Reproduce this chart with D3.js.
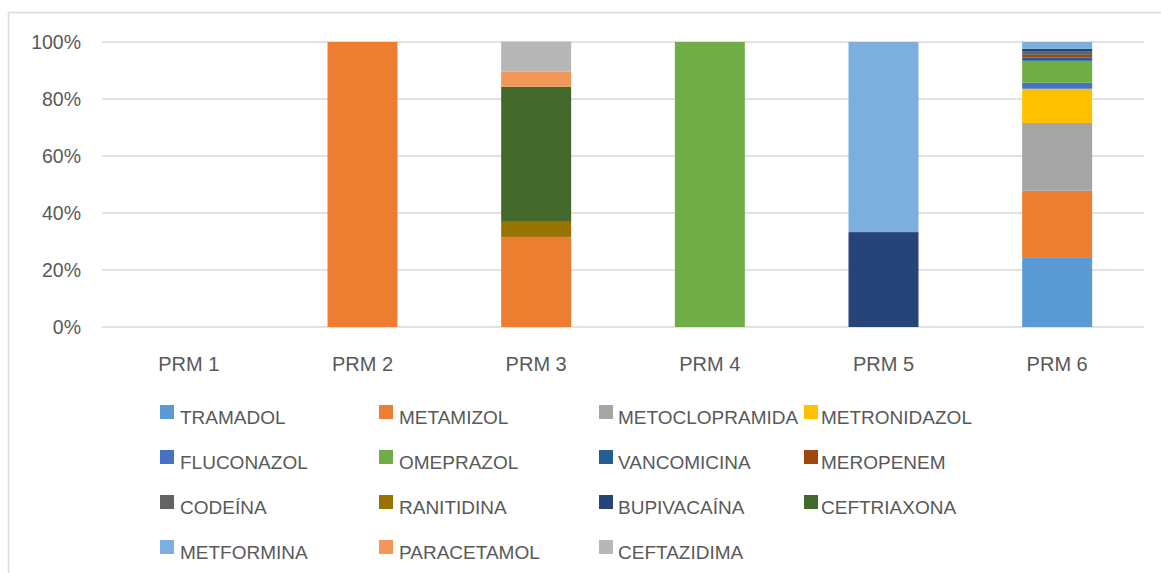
<!DOCTYPE html>
<html>
<head>
<meta charset="utf-8">
<script src="https://cdn.jsdelivr.net/npm/d3@7"></script>
<style>
  html, body { margin: 0; padding: 0; background: #fff; }
  svg { display: block; }
  text { font-family: "Liberation Sans", Arial, sans-serif; fill: #595959; }
</style>
</head>
<body>
<svg id="chart" width="1161" height="573"></svg>
<script>
// Categories (PRM types) and percentage of each drug within each category
const categories = ["PRM 1", "PRM 2", "PRM 3", "PRM 4", "PRM 5", "PRM 6"];

const drugs = [
  "TRAMADOL", "METAMIZOL", "METOCLOPRAMIDA", "METRONIDAZOL",
  "FLUCONAZOL", "OMEPRAZOL", "VANCOMICINA", "MEROPENEM",
  "CODEÍNA", "RANITIDINA", "BUPIVACAÍNA", "CEFTRIAXONA",
  "METFORMINA", "PARACETAMOL", "CEFTAZIDIMA"
];

const tramadol       = [0, 0,    0,    0,   0,    24.5];
const metamizol      = [0, 100,  31.6, 0,   0,    23.3];
const metoclopramida = [0, 0,    0,    0,   0,    23.8];
const metronidazol   = [0, 0,    0,    0,   0,    12.0];
const fluconazol     = [0, 0,    0,    0,   0,    2.1];
const omeprazol      = [0, 0,    0,    100, 0,    7.7];
const vancomicina    = [0, 0,    0,    0,   0,    1.1];
const meropenem      = [0, 0,    0,    0,   0,    1.0];
const codeina        = [0, 0,    0,    0,   0,    1.1];
const ranitidina     = [0, 0,    5.3,  0,   0,    0];
const bupivacaina    = [0, 0,    0,    0,   33.3, 1.0];
const ceftriaxona    = [0, 0,    47.4, 0,   0,    0];
const metformina     = [0, 0,    0,    0,   66.7, 2.4];
const paracetamol    = [0, 0,    5.3,  0,   0,    0];
const ceftazidima    = [0, 0,    10.5, 0,   0,    0];

const yTicks = [0, 20, 40, 60, 80, 100];
const yTickLabels = ["0%", "20%", "40%", "60%", "80%", "100%"];

const seriesValues = [
  tramadol, metamizol, metoclopramida, metronidazol,
  fluconazol, omeprazol, vancomicina, meropenem,
  codeina, ranitidina, bupivacaina, ceftriaxona,
  metformina, paracetamol, ceftazidima
];

const colors = [
  "#5B9BD5", "#ED7D31", "#A5A5A5", "#FFC000",
  "#4472C4", "#70AD47", "#255E91", "#9E480E",
  "#636363", "#997300", "#264478", "#43682B",
  "#7CAFDD", "#F1975A", "#B7B7B7"
];

// Table of rows, one per category, for d3.stack
const rows = categories.map((c, i) => {
  const r = { category: c };
  drugs.forEach((d, k) => { r[d] = seriesValues[k][i]; });
  return r;
});

const svg = d3.select("#chart");

// Chart frame: top and left edges
svg.append("path")
  .attr("d", "M8.5,600 L8.5,12.5 L1161,12.5")
  .attr("fill", "none").attr("stroke", "#d9d9d9").attr("stroke-width", 1.5);

const plot = { left: 102, right: 1144, top: 42, bottom: 327 };

const x = d3.scaleBand()
  .domain(categories)
  .range([plot.left, plot.right])
  .paddingInner(0.597)
  .paddingOuter(0.2985);

const y = d3.scaleLinear()
  .domain([0, 100])
  .range([plot.bottom, plot.top]);

// Gridlines
svg.append("g")
  .selectAll("line")
  .data(yTicks)
  .join("line")
  .attr("x1", plot.left).attr("x2", plot.right)
  .attr("y1", d => y(d)).attr("y2", d => y(d))
  .attr("stroke", "#d9d9d9").attr("stroke-width", 1.5);

// Y axis labels
const yAxis = d3.axisLeft(y)
  .tickValues(yTicks)
  .tickFormat((d, i) => yTickLabels[i])
  .tickSize(0)
  .tickPadding(21);

svg.append("g")
  .attr("transform", `translate(${plot.left},0)`)
  .call(yAxis)
  .call(g => g.select(".domain").remove())
  .call(g => g.selectAll("text")
    .attr("font-size", 19.5)
    .attr("font-family", "Liberation Sans, Arial, sans-serif")
    .attr("fill", "#595959"));

// Stacked bars
const stack = d3.stack().keys(drugs);
const stacked = stack(rows);

svg.append("g")
  .selectAll("g")
  .data(stacked)
  .join("g")
  .attr("fill", (d, i) => colors[i])
  .selectAll("rect")
  .data(d => d)
  .join("rect")
  .attr("x", d => x(d.data.category))
  .attr("width", x.bandwidth())
  .attr("y", d => y(d[1]))
  .attr("height", d => Math.max(0, y(d[0]) - y(d[1])));

// X axis labels
const xAxis = d3.axisBottom(x).tickSize(0).tickPadding(30);
svg.append("g")
  .attr("transform", `translate(0,${plot.bottom})`)
  .call(xAxis)
  .call(g => g.select(".domain").remove())
  .call(g => g.selectAll("text")
    .attr("font-size", 20)
    .attr("font-family", "Liberation Sans, Arial, sans-serif")
    .attr("fill", "#595959"));

// Legend: four columns, filled row by row
const legendCols = [
  { box: 160, text: 180 },
  { box: 379, text: 399 },
  { box: 599, text: 618 },
  { box: 804, text: 821 }
];
const legendRowY = [405, 450, 495, 540];

const legend = svg.append("g")
  .selectAll("g")
  .data(drugs)
  .join("g")
  .attr("transform", (d, i) => `translate(0,${legendRowY[Math.floor(i / 4)]})`);

legend.append("rect")
  .attr("x", (d, i) => legendCols[i % 4].box)
  .attr("y", 0)
  .attr("width", 14).attr("height", 14)
  .attr("fill", (d, i) => colors[i]);

legend.append("text")
  .attr("x", (d, i) => legendCols[i % 4].text)
  .attr("y", 18.5)
  .attr("font-size", 19)
  .text(d => d);
</script>
</body>
</html>
